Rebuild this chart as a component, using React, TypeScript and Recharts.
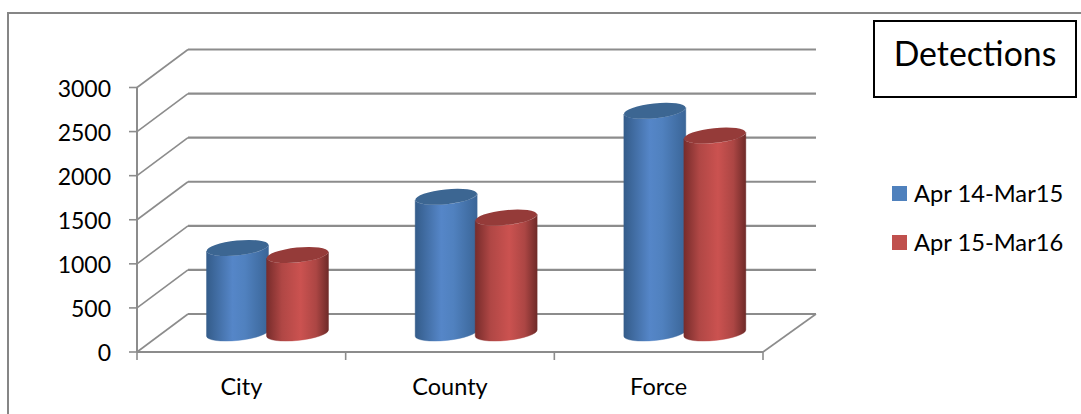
import React from "react";
import { BarChart, Bar, XAxis, YAxis, CartesianGrid, Legend } from "recharts";

const categories = ["City", "County", "Force"];
const firstYear = [965, 1545, 2520];
const secondYear = [885, 1310, 2240];
const valueTicks = [0, 500, 1000, 1500, 2000, 2500, 3000];
const seriesNames = ["Apr 14-Mar15", "Apr 15-Mar16"];

const rows = categories.map((name, i) => ({
  name,
  first: firstYear[i],
  second: secondYear[i],
}));

const FONT = "Lato, Carlito, sans-serif";
const GRID = "#8c8c8c";
const BACK_DX = 51;
const BACK_DY = -38;
const WALL_RIGHT_DX = 53;
const MID_DX = 26.5;
const MID_DY = -19;
const BAND = 626 / 3;

// One back-wall line, with the diagonal running from the value axis to the wall.
function WallLine(props: any) {
  const { x1, x2, y1, index } = props;
  const bx = x1 + BACK_DX;
  const by = y1 + BACK_DY;
  const isFloor = Math.abs(y1 - 352) < 1;
  return (
    <g key={index} fill="none" stroke={GRID}>
      <line x1={x1} y1={y1} x2={bx} y2={by} strokeWidth={1.6} />
      <line x1={bx} y1={by} x2={x2 + WALL_RIGHT_DX} y2={by} strokeWidth={2.2} />
      {isFloor && <line x1={x2} y1={y1} x2={x2 + WALL_RIGHT_DX} y2={by} strokeWidth={1.6} />}
    </g>
  );
}

// Cylinder standing on the middle of the floor.
function Cylinder(props: any) {
  const { x, y, width, height, gradient, cap } = props;
  const rx = width / 2;
  const ry = 7.4;
  const tilt = -6;
  const rise = 3.2;
  const left = x + MID_DX;
  const right = left + width;
  const cx = left + rx;
  const top = y + MID_DY;
  const base = y + height + MID_DY;
  const body = [
    `M${left},${top + rise}`,
    `L${left},${base + rise}`,
    `A${rx},${ry} ${tilt} 0 0 ${right},${base - rise}`,
    `L${right},${top - rise}`,
    `A${rx},${ry} ${tilt} 0 1 ${left},${top + rise}`,
    "Z",
  ].join(" ");
  return (
    <g>
      <path d={body} fill={`url(#${gradient})`} stroke={`url(#${gradient})`} strokeWidth={0.4} />
      <ellipse
        cx={cx}
        cy={top}
        rx={rx}
        ry={ry}
        fill={cap}
        transform={`rotate(${tilt} ${cx} ${top})`}
      />
    </g>
  );
}

// Category label with the separators either side of its band.
function CategoryTick(props: any) {
  const { x, payload, index } = props;
  const half = BAND / 2;
  const tickTop = 352;
  return (
    <g>
      <line x1={x - half} y1={tickTop} x2={x - half} y2={tickTop + 8} stroke={GRID} strokeWidth={1.6} />
      {index === categories.length - 1 && (
        <line x1={x + half} y1={tickTop} x2={x + half} y2={tickTop + 8} stroke={GRID} strokeWidth={1.6} />
      )}
      <text x={x} y={395} textAnchor="middle" fontFamily={FONT} fontSize={23.5} fill="#000">
        {payload.value}
      </text>
    </g>
  );
}

// Value label, right-aligned to the left of the axis tick.
function ValueTick(props: any) {
  const { y, payload } = props;
  return (
    <text x={111} y={y + 9} textAnchor="end" fontFamily={FONT} fontSize={23} fill="#000">
      {payload.value}
    </text>
  );
}

function SeriesKey({ payload }: any) {
  return (
    <div style={{ position: "relative", fontFamily: FONT, fontSize: 23.7, color: "#000" }}>
      {(payload || []).map((entry: any, i: number) => (
        <div key={entry.value} style={{ position: "absolute", top: 176 + i * 49, left: 892, whiteSpace: "nowrap", height: 34 }}>
          <span style={{ position: "absolute", left: 0, top: 10, width: 15, height: 15, background: entry.color }} />
          <span style={{ position: "absolute", left: 22, top: 3, lineHeight: "28px" }}>{entry.value}</span>
        </div>
      ))}
    </div>
  );
}

export default function App() {
  return (
    <div style={{ position: "absolute", left: 0, top: 0, width: 1081, height: 414, background: "#fff", overflow: "hidden" }}>
      <div
        style={{
          position: "absolute",
          left: 7,
          top: 12,
          width: 1074,
          height: 402,
          borderTop: "2px solid #868686",
          borderLeft: "2px solid #868686",
          boxSizing: "border-box",
        }}
      />
      <BarChart
        width={1081}
        height={414}
        data={rows}
        margin={{ top: 87.5, right: 318, bottom: 0, left: 0 }}
        barSize={62}
        barGap={-2}
        style={{ position: "absolute", left: 0, top: 0 }}
      >
        <defs>
          <linearGradient id="blueBody" x1="0" x2="1" y1="0" y2="0">
            <stop offset="0" stopColor="#345c8a" />
            <stop offset="0.42" stopColor="#5586c8" />
            <stop offset="0.62" stopColor="#5081bf" />
            <stop offset="1" stopColor="#3a6597" />
          </linearGradient>
          <linearGradient id="redBody" x1="0" x2="1" y1="0" y2="0">
            <stop offset="0" stopColor="#772c2b" />
            <stop offset="0.25" stopColor="#b04745" />
            <stop offset="0.55" stopColor="#cb5250" />
            <stop offset="0.8" stopColor="#ac4644" />
            <stop offset="1" stopColor="#6f2a28" />
          </linearGradient>
        </defs>
        <CartesianGrid vertical={false} horizontal={(p: any) => <WallLine {...p} />} />
        <XAxis
          dataKey="name"
          height={62}
          axisLine={{ stroke: GRID, strokeWidth: 2.2 }}
          tickLine={false}
          interval={0}
          tick={(p: any) => <CategoryTick {...p} />}
        />
        <YAxis
          width={137}
          domain={[0, 3000]}
          ticks={valueTicks}
          interval={0}
          axisLine={{ stroke: GRID, strokeWidth: 2 }}
          tickLine={{ stroke: GRID, strokeWidth: 1.6 }}
          tickSize={8}
          tick={(p: any) => <ValueTick {...p} />}
        />
        <Legend
          content={(p: any) => <SeriesKey {...p} />}
          wrapperStyle={{ position: "absolute", left: 0, top: 0, bottom: "auto", width: 1081, height: 0 }}
        />
        <Bar
          dataKey="first"
          name={seriesNames[0]}
          fill="#4f81bd"
          isAnimationActive={false}
          shape={(p: any) => <Cylinder {...p} gradient="blueBody" cap="#3c6692" />}
        />
        <Bar
          dataKey="second"
          name={seriesNames[1]}
          fill="#c0504d"
          isAnimationActive={false}
          shape={(p: any) => <Cylinder {...p} gradient="redBody" cap="#953b39" />}
        />
      </BarChart>
      <div
        style={{
          position: "absolute",
          left: 873,
          top: 19.5,
          width: 204,
          height: 78,
          boxSizing: "border-box",
          border: "2px solid #000",
          fontFamily: FONT,
          fontSize: 33.8,
          color: "#000",
          textAlign: "center",
          lineHeight: "62px",
        }}
      >
        Detections
      </div>
    </div>
  );
}
